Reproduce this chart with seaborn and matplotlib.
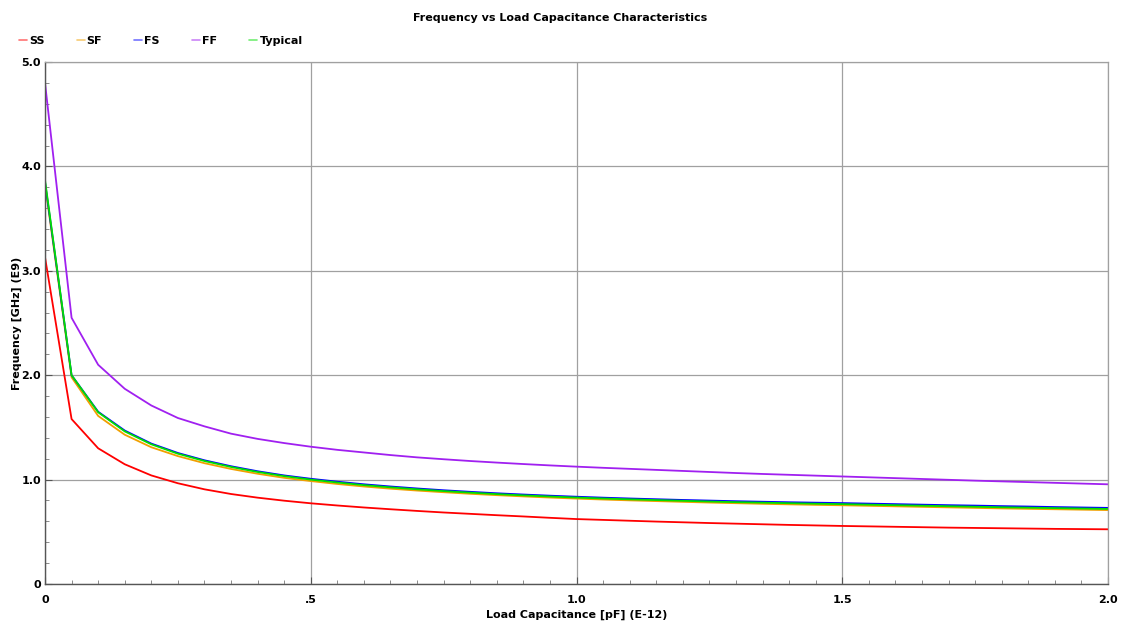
import numpy as np
import pandas as pd
import matplotlib
matplotlib.use("Agg")
import matplotlib.pyplot as plt
import seaborn as sns
from matplotlib.ticker import MultipleLocator, FixedLocator, FixedFormatter
from matplotlib.lines import Line2D

# ---- data ----
cap = [round(0.05 * i, 2) for i in range(41)]

ss = [3.13, 1.58, 1.30, 1.147, 1.04, 0.965, 0.907, 0.862, 0.827, 0.798,
      0.773, 0.752, 0.733, 0.716, 0.700, 0.685, 0.672, 0.659, 0.647, 0.634,
      0.622, 0.614, 0.606, 0.598, 0.591, 0.584, 0.578, 0.572, 0.566, 0.561,
      0.556, 0.552, 0.548, 0.544, 0.540, 0.537, 0.534, 0.531, 0.528, 0.526, 0.524]

sf = [3.83, 1.98, 1.61, 1.43, 1.31, 1.225, 1.157, 1.102, 1.056, 1.017,
      0.986, 0.958, 0.934, 0.913, 0.895, 0.879, 0.864, 0.851, 0.839, 0.828,
      0.818, 0.809, 0.801, 0.794, 0.787, 0.780, 0.774, 0.768, 0.763, 0.758,
      0.754, 0.749, 0.744, 0.739, 0.734, 0.729, 0.724, 0.720, 0.716, 0.712, 0.708]

fs = [3.85, 2.0, 1.65, 1.47, 1.345, 1.255, 1.185, 1.128, 1.08, 1.04,
      1.008, 0.98, 0.955, 0.934, 0.915, 0.898, 0.883, 0.869, 0.857, 0.846,
      0.836, 0.827, 0.819, 0.812, 0.805, 0.799, 0.793, 0.788, 0.783, 0.779,
      0.775, 0.770, 0.765, 0.760, 0.755, 0.751, 0.746, 0.742, 0.737, 0.733, 0.729]

ff = [4.80, 2.55, 2.10, 1.87, 1.71, 1.59, 1.51, 1.44, 1.39, 1.35,
      1.315, 1.285, 1.26, 1.235, 1.213, 1.195, 1.178, 1.163, 1.149, 1.136,
      1.124, 1.113, 1.103, 1.093, 1.083, 1.073, 1.063, 1.054, 1.046, 1.038,
      1.030, 1.022, 1.014, 1.006, 0.998, 0.990, 0.983, 0.976, 0.969, 0.962, 0.955]

typical = [3.87, 2.0, 1.645, 1.462, 1.338, 1.248, 1.178, 1.121, 1.073, 1.033,
           1.0, 0.972, 0.947, 0.926, 0.907, 0.890, 0.875, 0.861, 0.849, 0.838,
           0.828, 0.819, 0.811, 0.804, 0.797, 0.790, 0.784, 0.779, 0.774, 0.769,
           0.765, 0.760, 0.755, 0.750, 0.745, 0.740, 0.735, 0.731, 0.727, 0.723, 0.719]

series_names = ["SS", "SF", "FS", "FF", "Typical"]
series_vals = [ss, sf, fs, ff, typical]
colors = ["#ff0000", "#f0a000", "#0000ff", "#a020f0", "#00e000"]

x_ticks = [0, 0.5, 1.0, 1.5, 2.0]
x_labels = ["0", ".5", "1.0", "1.5", "2.0"]
y_ticks = [0, 1, 2, 3, 4, 5]
y_labels = ["0", "1.0", "2.0", "3.0", "4.0", "5.0"]

df = pd.concat([pd.DataFrame({"cap": cap, "freq": v, "corner": n})
                for n, v in zip(series_names, series_vals)], ignore_index=True)

sns.set_theme(style="white")
plt.rcParams["font.family"] = ["DejaVu Sans"]
plt.rcParams["font.weight"] = "bold"
plt.rcParams["text.color"] = "black"
plt.rcParams["axes.labelcolor"] = "black"
plt.rcParams["xtick.color"] = "black"
plt.rcParams["ytick.color"] = "black"

fig = plt.figure(figsize=(11.21, 6.21), dpi=100)
ax = fig.add_axes([45 / 1121, 37 / 621, 1063 / 1121, 522 / 621])

sns.lineplot(data=df, x="cap", y="freq", hue="corner", hue_order=series_names,
             palette=colors, linewidth=1.3, legend=False, ax=ax, sort=False)

ax.set_xlim(0, 2.0)
ax.set_ylim(0, 5.0)
ax.xaxis.set_major_locator(FixedLocator(x_ticks))
ax.xaxis.set_major_formatter(FixedFormatter(x_labels))
ax.yaxis.set_major_locator(FixedLocator(y_ticks))
ax.yaxis.set_major_formatter(FixedFormatter(y_labels))
ax.xaxis.set_minor_locator(MultipleLocator(0.05))
ax.yaxis.set_minor_locator(MultipleLocator(0.2))
ax.grid(True, which="major", color="#a0a0a0", linewidth=0.9)
ax.set_axisbelow(True)

ax.tick_params(axis="both", which="major", direction="in", length=5, width=0.8,
               color="#555555", labelcolor="black", labelsize=8, pad=3)
ax.tick_params(axis="x", which="major", pad=8)
ax.tick_params(axis="both", which="minor", direction="in", length=3, width=0.6,
               color="#777777")
ax.tick_params(bottom=True, left=True, which="both")
for lab in ax.get_xticklabels() + ax.get_yticklabels():
    lab.set_fontweight("bold")

for side in ["left", "bottom"]:
    ax.spines[side].set_color("#555555")
    ax.spines[side].set_linewidth(1.0)
for side in ["top", "right"]:
    ax.spines[side].set_color("#a0a0a0")
    ax.spines[side].set_linewidth(0.9)

ax.set_xlabel("Load Capacitance [pF] (E-12)", fontsize=8, fontweight="bold",
              color="black", labelpad=3)
ax.set_ylabel("Frequency [GHz] (E9)", fontsize=8, fontweight="bold", color="black")
ax.yaxis.set_label_coords((22 - 45) / 1063, 0.5)

fig.text(0.5, 1 - 18 / 621, "Frequency vs Load Capacitance Characteristics",
         ha="center", va="center", fontsize=8, fontweight="bold", color="black")

handles = [Line2D([0], [0], color=c, lw=1.2, alpha=0.55) for c in colors]
leg = fig.legend(handles, series_names, loc="center left",
                 bbox_to_anchor=(9 / 1121, 1 - 41 / 621), ncol=5, frameon=False,
                 handlelength=0.7, handletextpad=0.2, columnspacing=2.9,
                 prop={"size": 8, "weight": "bold"})

fig.savefig("out.png", dpi=100, facecolor="white")
